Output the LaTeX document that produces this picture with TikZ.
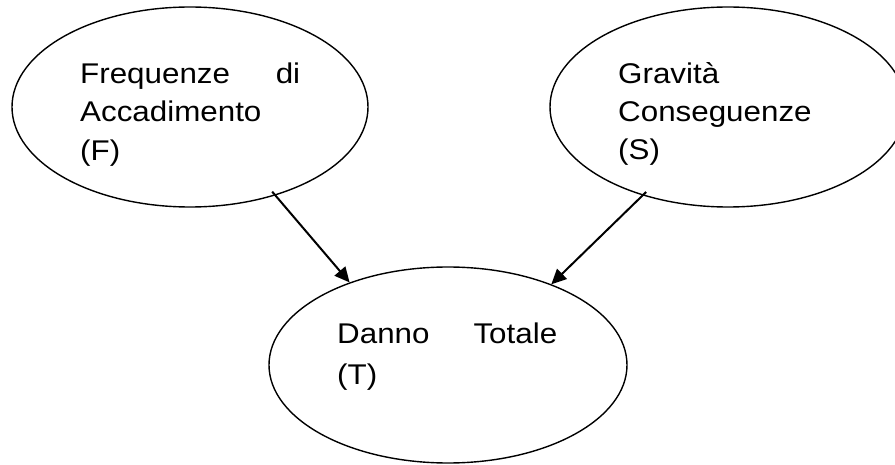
\documentclass[tikz,border=0pt]{standalone}
\usepackage{fontspec}
\setmainfont{Liberation Sans}[FakeStretch=1.1]
\usepackage{tikz}
\usetikzlibrary{shapes.geometric}
\usetikzlibrary{arrows.meta}

\tikzset{
  bolla/.style={draw, ellipse, line width=1.4pt, inner sep=0pt, minimum width=356pt, minimum height=200pt},
  testo/.style={anchor=north west, inner sep=0pt, text width=220pt, align=left},
  freccia/.style={line width=2pt, -{Triangle[length=15pt,width=14pt]}}
}

\begin{document}
\begin{tikzpicture}[x=1pt, y=-1pt]

    \path[use as bounding box, clip] (0,0) rectangle (895,465);

    \node[bolla] (F) at (190,107) {};
    \node[bolla] (S) at (728,107) {};
    \node[bolla, minimum width=358pt, minimum height=196pt] (T) at (448,365) {};

    \node[testo, font=\fontsize{28.5}{38.5}\selectfont] (Ftxt) at (80,62.3) {Frequenze\hfill di\\Accadimento\\(F)};
    \node[testo, font=\fontsize{28.5}{38}\selectfont] (Stxt) at (618,62.8) {Gravità\\Conseguenze\\(S)};
    \node[testo, font=\fontsize{28.5}{41.3}\selectfont] (Ttxt) at (337,322.7) {Danno\hfill Totale\\(T)};

    \draw[freccia, shorten <=-5pt] (F.-46.4) -- (T.140.1);
    \draw[freccia, shorten <=-5pt] (S.226) -- (T.38.8);

\end{tikzpicture}
\end{document}
